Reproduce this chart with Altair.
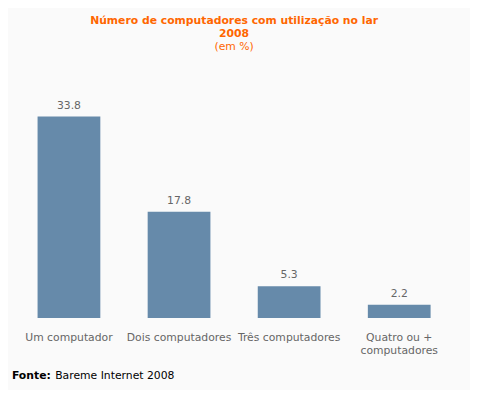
import altair as alt
import pandas as pd

categories = ["Um computador", "Dois computadores", "Três computadores", "Quatro ou + computadores"]
values = [33.8, 17.8, 5.3, 2.2]
labels = ["33.8", "17.8", "5.3", "2.2"]

df = pd.DataFrame({"cat": categories, "val": values, "lab": labels})

FONT = "DejaVu Sans"

x = alt.X("cat:N", sort=categories, title=None,
          scale=alt.Scale(paddingInner=0.43, paddingOuter=0.215),
          axis=alt.Axis(labelAngle=0, ticks=False, domain=False, labelPadding=14,
                        labelFont=FONT, labelFontSize=11, labelColor="#666666",
                        labelLineHeight=13, labelLimit=200,
                        labelExpr="datum.label == 'Quatro ou + computadores' ? ['Quatro ou +', 'computadores'] : datum.label"))
y = alt.Y("val:Q", title=None, scale=alt.Scale(domain=[0, 33.8], nice=False, zero=True), axis=None)

bars = alt.Chart(df).mark_bar(color="#668aaa").encode(x=x, y=y)
txt = alt.Chart(df).mark_text(font=FONT, fontSize=11, color="#666666", baseline="bottom", dy=-6).encode(
    x=alt.X("cat:N", sort=categories), y="val:Q", text="lab:N")

f1 = alt.Chart(pd.DataFrame({"t": ["Fonte:"]})).mark_text(
    font=FONT, fontSize=11, fontWeight="bold", color="#000000", align="left", baseline="middle"
).encode(x=alt.value(-2), y=alt.value(264), text="t:N")
f2 = alt.Chart(pd.DataFrame({"t": ["Bareme Internet 2008"]})).mark_text(
    font=FONT, fontSize=11, color="#000000", align="left", baseline="middle"
).encode(x=alt.value(42), y=alt.value(264), text="t:N")

chart = alt.layer(bars, txt, f1, f2).properties(
    width=448, height=205,
    autosize=alt.AutoSizeParams(type="none"),
    padding={"left": 6, "top": 107, "right": 16, "bottom": 70},
    background="#fafafa",
    title=alt.Title(
        text=["Número de computadores com utilização no lar", "2008"],
        subtitle="(em %)",
        anchor="middle", font=FONT, fontSize=11, fontWeight="bold", color="#ff6600",
        lineHeight=13, subtitleFont=FONT, subtitleFontSize=11, subtitleColor="#ff6600",
        subtitlePadding=2, offset=49,
    ),
).configure_view(stroke=None)

chart.save("out.html", embed_options={"renderer": "svg", "actions": False})
